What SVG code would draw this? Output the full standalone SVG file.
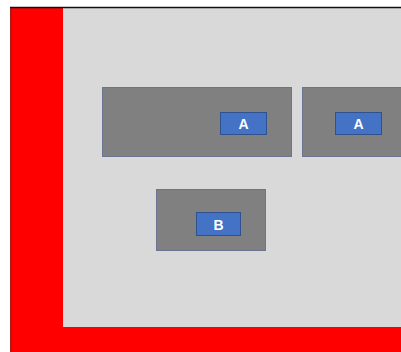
<svg xmlns="http://www.w3.org/2000/svg" width="401" height="352" viewBox="0 0 401 352">
<style>
.box{fill:#808080;stroke:#6b7490;stroke-width:1}
.tag{fill:#4472c4;stroke:#2f528f;stroke-width:1}
.lbl{font-family:"Liberation Sans",Arial,sans-serif;font-size:14px;font-weight:bold;fill:#ffffff;text-anchor:middle;dominant-baseline:central}
</style>
<rect x="0" y="0" width="401" height="352" fill="#ffffff"/>
<rect x="63" y="8" width="338" height="319" fill="#d9d9d9"/>
<rect x="10" y="8" width="53" height="344" fill="#ff0000"/>
<rect x="63" y="327" width="338" height="25" fill="#ff0000"/>
<rect x="10" y="8" width="2" height="344" fill="#b01818"/>
<line x1="10" y1="7.5" x2="401" y2="7.5" stroke="#111111" stroke-width="1.5"/>
<g id="node-a1">
<rect class="box" x="102.5" y="87.5" width="189" height="69"/>
<rect class="tag" x="220.5" y="112.5" width="46" height="22"/>
<text class="lbl" x="243.5" y="124">A</text>
</g>
<g id="node-a2">
<rect class="box" x="302.5" y="87.5" width="100" height="69"/>
<rect class="tag" x="335.5" y="112.5" width="46" height="22"/>
<text class="lbl" x="358.5" y="124">A</text>
</g>
<g id="node-b">
<rect class="box" x="156.5" y="189.5" width="109" height="61"/>
<rect class="tag" x="196.5" y="212.5" width="44" height="23"/>
<text class="lbl" x="218.5" y="224.5">B</text>
</g>
<g id="connectors"></g>
</svg>
